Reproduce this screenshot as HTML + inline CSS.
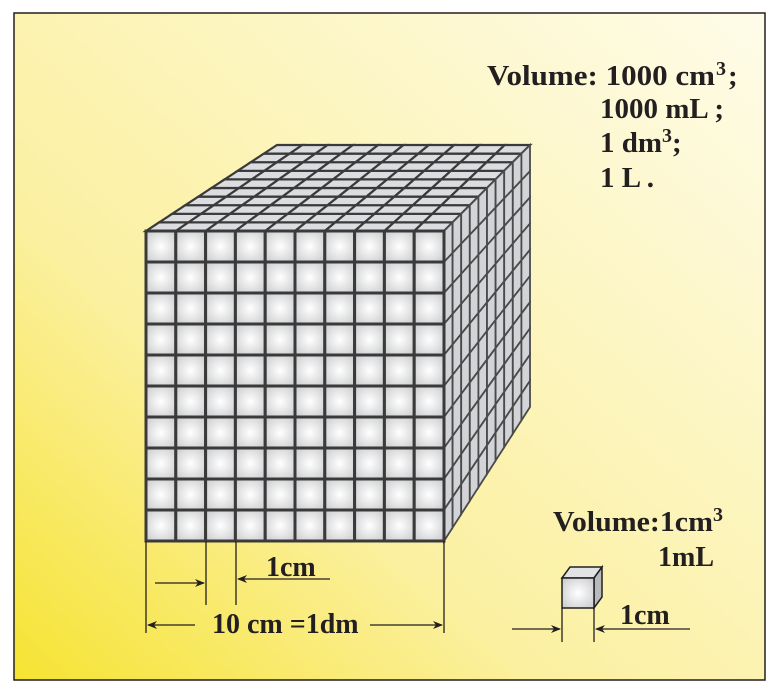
<!DOCTYPE html>
<html><head><meta charset="utf-8"><style>
html,body{margin:0;padding:0;background:#fff}
svg{display:block}
text{font-family:"Liberation Serif",serif;font-weight:bold;fill:#231f20}
</style></head><body>
<svg width="778" height="695" viewBox="0 0 778 695">
<defs>
<linearGradient id="bg" x1="0" y1="1" x2="1" y2="0">
<stop offset="0" stop-color="#f6e332"/><stop offset="0.35" stop-color="#fbf0a0"/><stop offset="1" stop-color="#fefce9"/>
</linearGradient>
<radialGradient id="cell" cx="0.5" cy="0.5" r="0.7">
<stop offset="0" stop-color="#ffffff"/><stop offset="1" stop-color="#c8c9cb"/>
</radialGradient>
<marker id="ah" markerWidth="10" markerHeight="8" refX="9" refY="4" orient="auto" markerUnits="userSpaceOnUse">
<path d="M0,0 L10,4 L0,8 L3,4 Z" fill="#231f20"/></marker>
</defs>
<rect x="0" y="0" width="778" height="695" fill="#fff"/>
<rect x="14" y="13" width="751" height="667" fill="url(#bg)" stroke="#231f20" stroke-width="1.5"/>
<g id="cube"></g>
<g stroke="#231f20" stroke-width="1.3" fill="none">
<line x1="146" y1="541" x2="146" y2="633"/><line x1="206" y1="541" x2="206" y2="605"/>
<line x1="236" y1="541" x2="236" y2="605"/><line x1="444" y1="541" x2="444" y2="633"/>
<line x1="155" y1="583" x2="204" y2="583" marker-end="url(#ah)"/>
<line x1="330" y1="579" x2="238" y2="579" marker-end="url(#ah)"/>
<line x1="195" y1="625" x2="148" y2="625" marker-end="url(#ah)"/>
<line x1="370" y1="625" x2="442" y2="625" marker-end="url(#ah)"/>
<line x1="562" y1="608" x2="562" y2="642"/><line x1="594" y1="608" x2="594" y2="642"/>
<line x1="512" y1="629" x2="560" y2="629" marker-end="url(#ah)"/>
<line x1="690" y1="629" x2="596" y2="629" marker-end="url(#ah)"/>
</g>
<g stroke="#231f20" stroke-width="1.5">
<polygon points="562,578 570,567 602,567 594,578" fill="#e2e3e5"/>
<polygon points="594,578 602,567 602,597 594,608" fill="#b9babc"/>
<rect x="562" y="578" width="32" height="30" fill="url(#cell)"/>
</g>
<text x="487" y="85" font-size="29" textLength="228" lengthAdjust="spacingAndGlyphs">Volume: 1000 cm</text>
<text x="716" y="75" font-size="20">3</text>
<text x="728" y="85" font-size="29">;</text>
<text x="600" y="118" font-size="29">1000 mL ;</text>
<text x="600" y="152" font-size="29">1 dm<tspan dy="-10" font-size="20">3</tspan><tspan dy="10">;</tspan></text>
<text x="600" y="187" font-size="29">1 L .</text>
<text x="553" y="531" font-size="28" textLength="160" lengthAdjust="spacingAndGlyphs">Volume:1cm</text>
<text x="713" y="521" font-size="20">3</text>
<text x="658" y="566" font-size="28">1mL</text>
<text x="266" y="576" font-size="28">1cm</text>
<text x="212" y="633" font-size="28">10 cm =1dm</text>
<text x="620" y="624" font-size="28">1cm</text>
</svg>
<script>
const N=10, X0=146, Y0=231, W=298, H=310;
const TOP=[[146,231],[444,231],[530,145],[277,145]]; // FL, FR, BR, BL
const SIDE=[[444,231],[530,145],[530,407],[444,541]]; // FT, BT, BB, FB
const g=document.getElementById('cube');
const ns='http://www.w3.org/2000/svg';
function el(t,a){const e=document.createElementNS(ns,t);for(const k in a)e.setAttribute(k,a[k]);g.appendChild(e);return e;}
function bil(Q,u,v){ // u along first edge (0->1), v along second
 const a=[Q[0][0]+(Q[1][0]-Q[0][0])*u, Q[0][1]+(Q[1][1]-Q[0][1])*u];
 const b=[Q[3][0]+(Q[2][0]-Q[3][0])*u, Q[3][1]+(Q[2][1]-Q[3][1])*u];
 return [a[0]+(b[0]-a[0])*v, a[1]+(b[1]-a[1])*v];
}
function quad(Q,u0,u1,v0,v1){return [bil(Q,u0,v0),bil(Q,u1,v0),bil(Q,u1,v1),bil(Q,u0,v1)].map(p=>p[0].toFixed(1)+','+p[1].toFixed(1)).join(' ');}
const cw=W/N, ch=H/N;
for(let i=0;i<N;i++)for(let j=0;j<N;j++){
 const c=el('polygon',{points:quad(TOP,i/N,(i+1)/N,j/N,(j+1)/N),fill:'#dcdde0',stroke:'#3a3a3a','stroke-width':2.2});
 
 
}
for(let j=0;j<N;j++)for(let r=0;r<N;r++){
 const c=el('polygon',{points:quad(SIDE,j/N,(j+1)/N,r/N,(r+1)/N),fill:'#d3d4d7',stroke:'#4a4a4a','stroke-width':1.8});
 
 
}
for(let r=0;r<N;r++)for(let i=0;i<N;i++){
 const c=el('rect',{x:X0+i*cw,y:Y0+r*ch,width:cw,height:ch,fill:'url(#cell)',stroke:'#3a3a3a','stroke-width':3});
 
 
}
</script>
</body></html>
